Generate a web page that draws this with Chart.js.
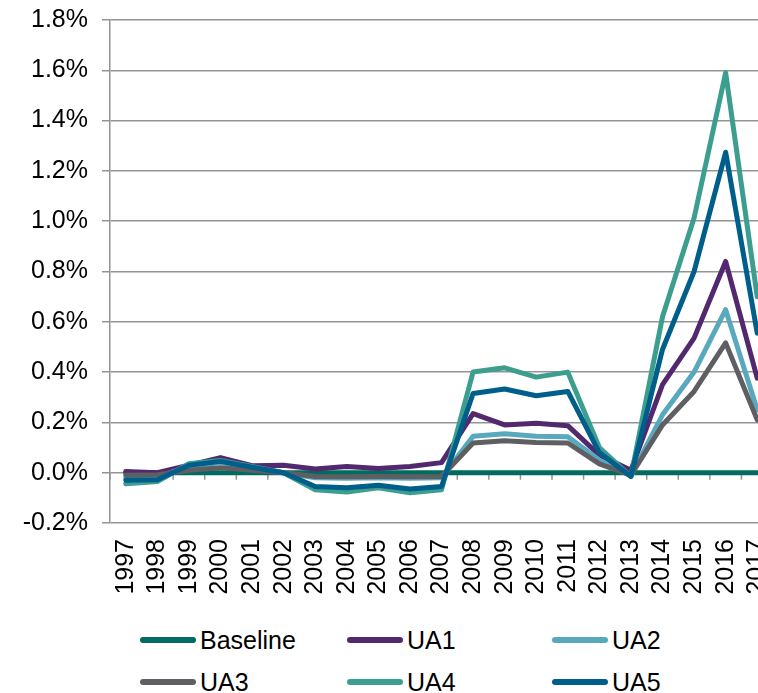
<!DOCTYPE html>
<html>
<head>
<meta charset="utf-8">
<script src="https://cdn.jsdelivr.net/npm/chart.js@4"></script>
<style>
  html, body { margin: 0; padding: 0; background: #fff; overflow: hidden; width: 758px; height: 693px; }
  #wrap { position: relative; width: 773px; height: 693px; }
  #cbox { position: absolute; left: 0; top: 0; width: 773px; height: 615px; }
  .lg { position: absolute; height: 30px; display: flex; align-items: center; font-family: "Liberation Sans", Arial, sans-serif; font-size: 25px; color: #000; white-space: nowrap; }
  .lg .sw { width: 56px; height: 6px; border-radius: 3px; margin-right: 4px; }
</style>
</head>
<body>
<div id="wrap">
  <div id="cbox"><canvas id="c"></canvas></div>
  <div id="legend"></div>
</div>
<script>
const years = ['1997','1998','1999','2000','2001','2002','2003','2004','2005','2006','2007','2008','2009','2010','2011','2012','2013','2014','2015','2016','2017'];
const seriesNames = ['Baseline','UA1','UA2','UA3','UA4','UA5'];
const seriesColors = ['#006b5e','#52296e','#58a9bd','#5f5f63','#3b9e8e','#005e8a'];
const baseline = [0,0,0,0,0,0,0,0,0,0,0,0,0,0,0,0,0,0,0,0,0];
const ua1 = [0.005,0.0,0.03,0.06,0.028,0.03,0.015,0.025,0.017,0.025,0.04,0.235,0.19,0.197,0.187,0.07,0.01,0.35,0.535,0.84,0.376];
const ua2 = [-0.02,-0.018,0.025,0.04,0.02,0.0,-0.02,-0.022,-0.02,-0.022,-0.02,0.145,0.155,0.145,0.143,0.05,-0.012,0.23,0.40,0.648,0.25];
const ua3 = [-0.01,-0.008,0.01,0.02,0.01,0.0,-0.015,-0.016,-0.015,-0.016,-0.015,0.118,0.127,0.12,0.118,0.035,-0.01,0.19,0.323,0.516,0.21];
const ua4 = [-0.044,-0.035,0.036,0.049,0.025,0.0,-0.068,-0.077,-0.06,-0.08,-0.068,0.40,0.417,0.38,0.40,0.10,-0.015,0.62,1.013,1.59,0.70];
const ua5 = [-0.03,-0.028,0.03,0.045,0.022,0.0,-0.055,-0.06,-0.05,-0.065,-0.055,0.315,0.333,0.306,0.323,0.08,-0.015,0.49,0.80,1.274,0.555];
const seriesData = [baseline, ua1, ua2, ua3, ua4, ua5];
const yMin = -0.2, yMax = 1.8, yStep = 0.2;

const FONT = { family: '"Liberation Sans", Arial, sans-serif', size: 25 };
const GRID = '#949494';

function noPad(s) { s.paddingLeft = 0; s.paddingRight = 0; s.paddingTop = 0; s.paddingBottom = 0; }

const zeroTicks = {
  id: 'zeroTicks',
  beforeDatasetsDraw(chart) {
    const xs = chart.scales.x, ys = chart.scales.y;
    const y0 = ys.getPixelForValue(0);
    const ctx = chart.ctx;
    ctx.save();
    ctx.strokeStyle = GRID;
    ctx.lineWidth = 1.5;
    ctx.beginPath();
    for (let i = 0; i <= years.length; i++) {
      let x;
      if (i === 0) x = xs.left;
      else if (i === years.length) x = xs.right;
      else x = (xs.getPixelForValue(i - 1) + xs.getPixelForValue(i)) / 2;
      ctx.moveTo(x, y0);
      ctx.lineTo(x, y0 + 7);
    }
    ctx.stroke();
    ctx.restore();
  }
};

const datasets = seriesNames.map((n, i) => ({
  label: n,
  data: seriesData[i],
  borderColor: seriesColors[i],
  backgroundColor: seriesColors[i],
  borderWidth: 5,
  pointRadius: 0,
  tension: 0,
  borderJoinStyle: 'round',
  borderCapStyle: 'round',
  order: seriesNames.length - i
}));

new Chart(document.getElementById('c'), {
  type: 'line',
  data: { labels: years, datasets },
  options: {
    responsive: true,
    maintainAspectRatio: false,
    animation: false,
    devicePixelRatio: 1,
    layout: { padding: { top: 20, left: 0, right: 0, bottom: 0 }, autoPadding: false },
    plugins: { legend: { display: false }, tooltip: { enabled: false } },
    scales: {
      x: {
        offset: true,
        grid: { display: false, drawTicks: false },
        border: { display: false },
        ticks: { minRotation: 90, maxRotation: 90, autoSkip: false, font: FONT, color: '#000', padding: 16 },
        afterFit(s) { s.height = 92; noPad(s); }
      },
      y: {
        min: yMin, max: yMax,
        grid: { color: GRID, lineWidth: 1.5, tickLength: 8, drawTicks: true },
        border: { display: true, color: GRID, width: 1.5 },
        ticks: { stepSize: yStep, font: FONT, color: '#000', padding: 14,
          callback: v => v.toFixed(1) + '%' },
        afterFit(s) { s.width = 110; noPad(s); }
      }
    }
  },
  plugins: [zeroTicks]
});

const legendPos = [[140, 640], [347, 640], [552, 640], [140, 682], [347, 682], [552, 682]];
const lg = document.getElementById('legend');
seriesNames.forEach((n, i) => {
  const d = document.createElement('div');
  d.className = 'lg';
  d.style.left = legendPos[i][0] + 'px';
  d.style.top = (legendPos[i][1] - 15) + 'px';
  const sw = document.createElement('span');
  sw.className = 'sw';
  sw.style.background = seriesColors[i];
  const t = document.createElement('span');
  t.textContent = n;
  d.appendChild(sw); d.appendChild(t);
  lg.appendChild(d);
});
</script>
</body>
</html>
